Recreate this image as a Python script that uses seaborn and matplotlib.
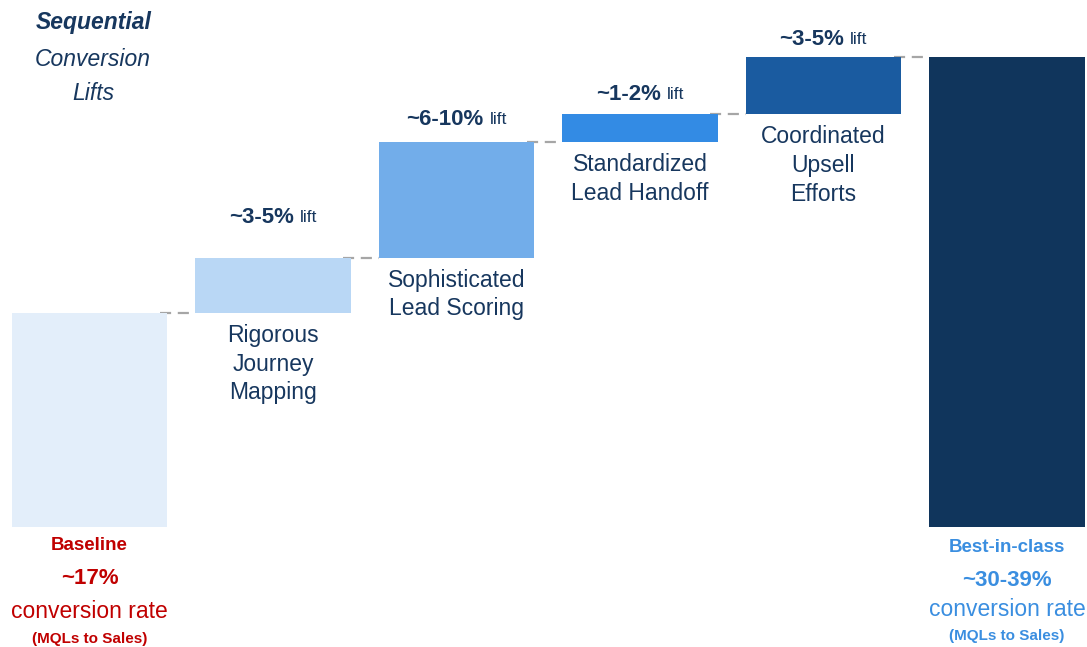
import seaborn as sns
import matplotlib.pyplot as plt
import numpy as np

# data
categories = ["Baseline", "Rigorous\nJourney\nMapping", "Sophisticated\nLead Scoring",
              "Standardized\nLead Handoff", "Coordinated\nUpsell\nEfforts", "Best-in-class"]
baseline = 17.0
lifts = [4.4, 9.2, 2.2, 4.5]
best = 37.3
lift_labels = ["~3-5%", "~6-10%", "~1-2%", "~3-5%"]
baseline_text = ["Baseline", "~17%", "conversion rate", "(MQLs to Sales)"]
best_text = ["Best-in-class", "~30-39%", "conversion rate", "(MQLs to Sales)"]

colors = ["#E3EEFA", "#B9D7F5", "#72ADEA", "#338BE4", "#1A5BA0", "#10355C"]
navy = "#17375E"
red = "#C00000"
blue = "#3A8EE0"

sns.set_style("white")
plt.rcParams["font.family"] = ["Liberation Sans", "DejaVu Sans"]

heights = [baseline] + lifts + [best]
bottoms = [0.0] + list(np.cumsum([baseline] + lifts[:-1])) + [0.0]
tops = [b + h for b, h in zip(bottoms, heights)]

fig = plt.figure(figsize=(10.87, 6.47), dpi=100)
ax = fig.add_axes([0, 0, 1, 1])
sns.barplot(x=list(range(6)), y=heights, bottom=bottoms, width=0.845, ax=ax,
            native_scale=True, linewidth=0, color=colors[0], saturation=1)
for p, c in zip(ax.patches, colors):
    p.set_facecolor(c)
    p.set_edgecolor("none")

px = 12.59  # pixels per unit
ax.set_xlim(-89.5 / 183.5, (1087 - 89.5) / 183.5)
ax.set_ylim(-120 / px, 527 / px)
ax.axis("off")

def ypx(y):
    # convert pixel row (from top) to data y
    return (527 - y) / px

hw = 0.845 / 2
# connectors
for i in range(5):
    y = tops[i]
    ax.plot([i + hw - 0.04, i + 1 - hw], [y, y], color="#A6A6A6", lw=1.6,
            dashes=(5, 3), zorder=0)

# category labels under the lift bars
for i in range(1, 5):
    ax.text(i, bottoms[i] - 11 / px, categories[i], ha="center", va="top",
            fontsize=16.5, color=navy, linespacing=1.32)

# lift labels
fig.canvas.draw()
r = fig.canvas.get_renderer()
lift_y = [217, 119, 94, 39]
for i, (lab, yy) in enumerate(zip(lift_labels, lift_y)):
    cx = i + 1
    t1 = ax.text(cx, ypx(yy), lab, ha="left", va="center", fontsize=16,
                 fontweight="bold", color=navy)
    t2 = ax.text(cx, ypx(yy), "lift", ha="left", va="center", fontsize=12.5,
                 color=navy)
    w1 = t1.get_window_extent(r).width / 183.5
    w2 = t2.get_window_extent(r).width / 183.5
    gap = 6 / 183.5
    start = cx - (w1 + gap + w2) / 2
    t1.set_x(start)
    t2.set_x(start + w1 + gap)

# title block
ax.text(0.02, ypx(22), "Sequential", ha="center", va="center", fontsize=16.5,
        fontweight="bold", fontstyle="italic", color=navy)
ax.text(0.02, ypx(59), "Conversion", ha="center", va="center", fontsize=16.5,
        fontstyle="italic", color=navy)
ax.text(0.02, ypx(93), "Lifts", ha="center", va="center", fontsize=16.5,
        fontstyle="italic", color=navy)

# end labels
sizes = [13.5, 16, 16.5, 11]
weights = ["bold", "bold", "normal", "bold"]
for s, ys, sz, wt in zip(baseline_text, [545, 578, 612, 639], sizes, weights):
    ax.text(0, ypx(ys), s, ha="center", va="center", fontsize=sz,
            fontweight=wt, color=red)
for s, ys, sz, wt in zip(best_text, [548, 581, 609, 636], sizes, weights):
    ax.text(5, ypx(ys), s, ha="center", va="center", fontsize=sz,
            fontweight=wt, color=blue)

fig.savefig("out.png", dpi=100)
